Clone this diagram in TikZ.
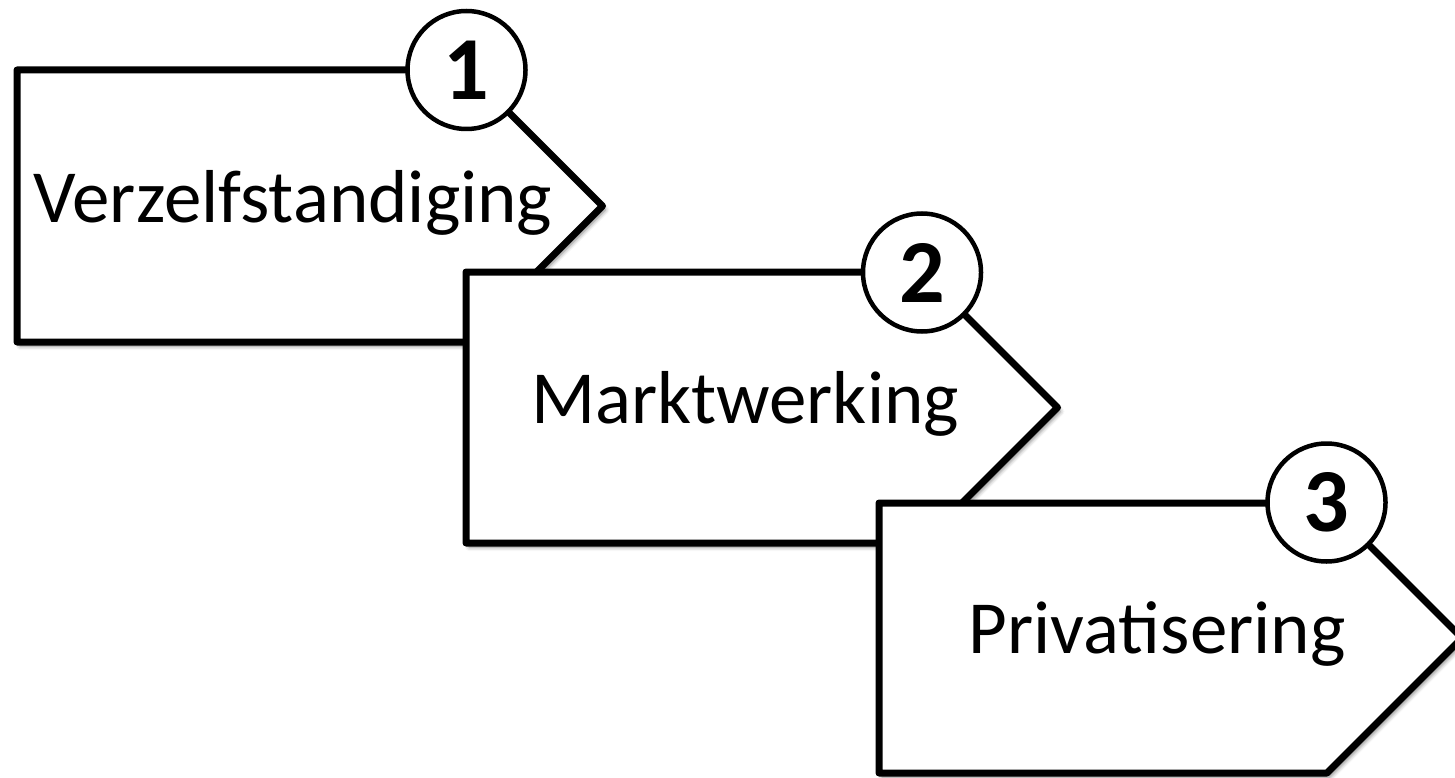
\documentclass[tikz,border=0pt]{standalone}
\usepackage{fontspec}
\setmainfont{Carlito}
\usetikzlibrary{shadows.blur}
\tikzset{
  stepshape/.style={draw=black, line width=7pt, line join=round, fill=white,
    blur shadow={shadow xshift=3pt, shadow yshift=-4pt, shadow blur radius=4pt, shadow opacity=50}},
  numcircle/.style={circle, draw=black, line width=4.5pt, fill=white, minimum size=118pt,
    inner sep=0pt, font=\fontsize{90}{90}\selectfont\bfseries},
  steplabel/.style={anchor=base, inner sep=0pt, font=\fontsize{75}{90}\selectfont},
}
\begin{document}
\begin{tikzpicture}[x=1pt,y=-1pt]
\useasboundingbox (0,0) rectangle (1455,778);
% step 1
\coordinate (c1) at (466.5,70);
\path[stepshape] (17,70) -- (c1) -- (602.5,206) -- (466.5,342) -- (17,342) -- cycle;
\node[numcircle] (n1) at (466.5,70) {1};
\node[steplabel] (t1) at (293,222) {Verzelfstandiging};
% step 2
\coordinate (c2) at (922,272);
\path[stepshape] (466,272) -- (c2) -- (1057.5,407.5) -- (922,543) -- (466,543) -- cycle;
\node[numcircle] (n2) at (922,272.5) {2};
\node[steplabel] (t2) at (745,423) {Marktwerking};
% step 3
\coordinate (c3) at (1327,503);
\path[stepshape] (879,503) -- (c3) -- (1462,638) -- (1327,773) -- (879,773) -- cycle;
\node[numcircle] (n3) at (1326.5,502.5) {3};
\node[steplabel] (t3) at (1157,653) {Privatisering};
\end{tikzpicture}
\end{document}
